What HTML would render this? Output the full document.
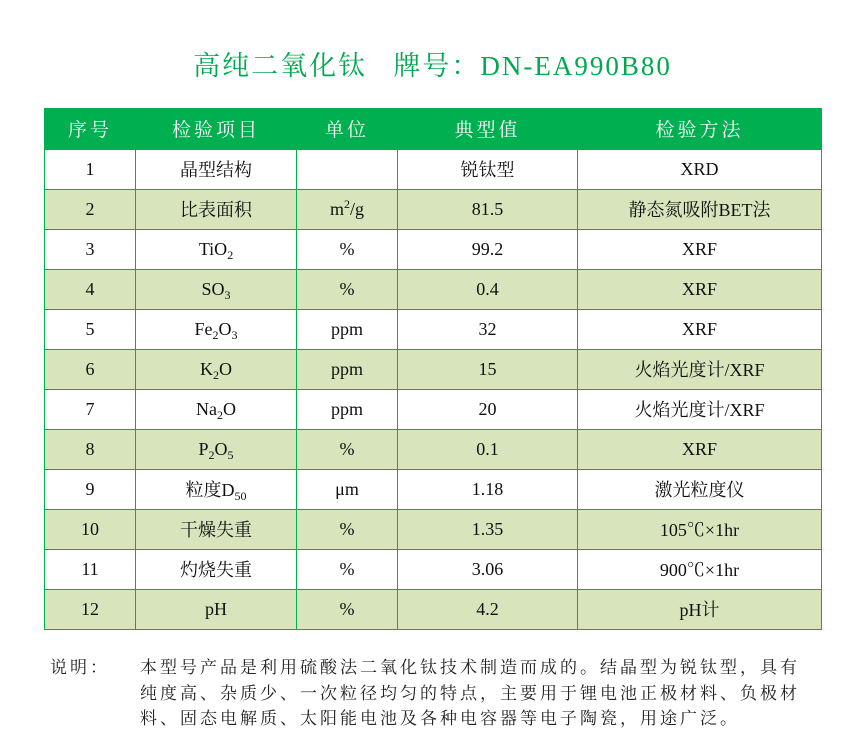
<!DOCTYPE html>
<html><head><meta charset="utf-8"><style>
body{margin:0;width:857px;height:738px;background:#fff;position:relative;overflow:hidden;font-family:"Liberation Serif","Noto Serif CJK SC",serif;}
.title{position:absolute;left:0;width:857px;top:48px;text-align:center;color:#00a94f;font-size:27px;letter-spacing:2px;line-height:36px;white-space:pre;padding-left:8px;box-sizing:border-box}
table{position:absolute;left:44px;top:108px;border-collapse:collapse;table-layout:fixed;width:777px}
td{border:1.5px solid #00b050;height:39px;padding:0;text-align:center;font-size:18px;color:#111;font-weight:normal}
tr.h td{background:#00b050;color:#fff;font-size:19px;letter-spacing:3px;height:39.5px;border-color:#00b050}
tr.g td{background:#d8e4bc}
sub{font-size:12px;vertical-align:-4px;line-height:0}
sup{font-size:12px;vertical-align:7px;line-height:0}
.note{position:absolute;top:655px;font-size:17px;letter-spacing:3px;line-height:25.5px;color:#222}
</style></head><body>
<div class="title">高纯二氧化钛   牌号：DN-EA990B80</div>
<table>
<colgroup><col style="width:91px"><col style="width:161px"><col style="width:101px"><col style="width:180px"><col style="width:244px"></colgroup>
<tr class="h"><td>序号</td><td>检验项目</td><td>单位</td><td>典型值</td><td>检验方法</td></tr>
<tr><td>1</td><td>晶型结构</td><td></td><td>锐钛型</td><td>XRD</td></tr>
<tr class="g"><td>2</td><td>比表面积</td><td>m<sup>2</sup>/g</td><td>81.5</td><td>静态氮吸附BET法</td></tr>
<tr><td>3</td><td>TiO<sub>2</sub></td><td>%</td><td>99.2</td><td>XRF</td></tr>
<tr class="g"><td>4</td><td>SO<sub>3</sub></td><td>%</td><td>0.4</td><td>XRF</td></tr>
<tr><td>5</td><td>Fe<sub>2</sub>O<sub>3</sub></td><td>ppm</td><td>32</td><td>XRF</td></tr>
<tr class="g"><td>6</td><td>K<sub>2</sub>O</td><td>ppm</td><td>15</td><td>火焰光度计/XRF</td></tr>
<tr><td>7</td><td>Na<sub>2</sub>O</td><td>ppm</td><td>20</td><td>火焰光度计/XRF</td></tr>
<tr class="g"><td>8</td><td>P<sub>2</sub>O<sub>5</sub></td><td>%</td><td>0.1</td><td>XRF</td></tr>
<tr><td>9</td><td>粒度D<sub>50</sub></td><td>μm</td><td>1.18</td><td>激光粒度仪</td></tr>
<tr class="g"><td>10</td><td>干燥失重</td><td>%</td><td>1.35</td><td>105℃×1hr</td></tr>
<tr><td>11</td><td>灼烧失重</td><td>%</td><td>3.06</td><td>900℃×1hr</td></tr>
<tr class="g"><td>12</td><td>pH</td><td>%</td><td>4.2</td><td>pH计</td></tr>
</table>
<div class="note" style="left:50px">说明：</div>
<div class="note" style="left:140px;width:700px">本型号产品是利用硫酸法二氧化钛技术制造而成的。结晶型为锐钛型，具有<br>纯度高、杂质少、一次粒径均匀的特点，主要用于锂电池正极材料、负极材<br>料、固态电解质、太阳能电池及各种电容器等电子陶瓷，用途广泛。</div>
</body></html>
